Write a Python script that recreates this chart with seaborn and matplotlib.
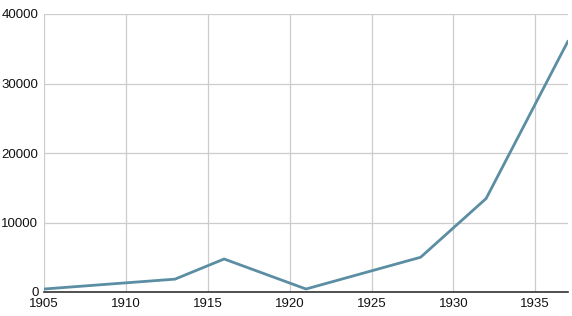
import matplotlib
matplotlib.use("Agg")
import matplotlib.pyplot as plt
import seaborn as sns
import pandas as pd

years = [1905, 1913, 1916, 1921, 1928, 1932, 1937]
values = [430, 1850, 4750, 430, 5000, 13450, 36100]
x_ticks = [1905, 1910, 1915, 1920, 1925, 1930, 1935]
y_ticks = [0, 10000, 20000, 30000, 40000]

sns.set_theme(style="white")
plt.rcParams['font.family'] = ['Liberation Sans', 'DejaVu Sans']

df = pd.DataFrame({"year": years, "value": values})

fig = plt.figure(figsize=(5.72, 3.16), dpi=100)
ax = fig.add_axes([44/572, 24/316, 524/572, 278/316])
sns.lineplot(data=df, x="year", y="value", ax=ax, color="#5b8ea3", linewidth=2)
ax.set_xlim(1905, 1937)
ax.set_ylim(0, 40000)
ax.set_xticks(x_ticks)
ax.set_yticks(y_ticks)
ax.set_xticklabels([str(t) for t in x_ticks])
ax.set_yticklabels([str(t) for t in y_ticks])
ax.grid(True, color="#cccccc", linewidth=0.9)
ax.set_axisbelow(True)
for s in ["top", "right", "left"]:
    ax.spines[s].set_visible(False)
ax.spines["bottom"].set_color("#333333")
ax.spines["bottom"].set_linewidth(1.2)
ax.tick_params(axis="both", length=0, labelsize=9.5, colors="#111111")
ax.tick_params(axis="x", pad=4.5)
ax.tick_params(axis="y", pad=4)
ax.set_xlabel("")
ax.set_ylabel("")
fig.savefig("out.png", dpi=100)
